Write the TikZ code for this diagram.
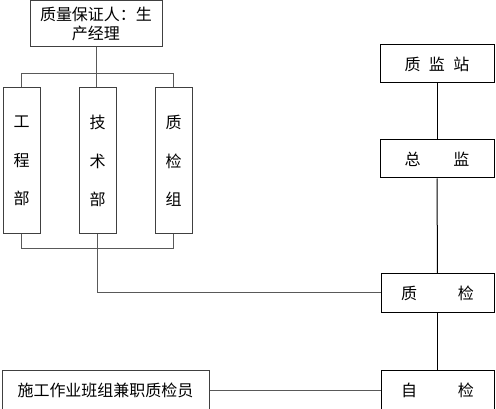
\documentclass[tikz,border=0pt]{standalone}
\usepackage{fontspec}
\setmainfont{Noto Sans CJK SC}
\newfontfamily\cjk{Noto Sans CJK SC}

\tikzset{
  box/.style={draw=black!75,line width=1pt,inner sep=0pt,font=\cjk\fontsize{16}{19}\selectfont},
  tallbox/.style={box,minimum width=37pt,minimum height=146pt,align=center,font=\cjk\fontsize{16}{38.5}\selectfont},
  rbox/.style={box,draw=black,minimum width=114pt,minimum height=38pt},
  link/.style={draw=black!65,line width=1pt}
}

\begin{document}
\begin{tikzpicture}[x=1pt,y=-1pt]
  \useasboundingbox (0,0) rectangle (496,409);
  \clip (0,0) rectangle (496,409);

  % left side

  \node[box,minimum width=132pt,minimum height=46pt,align=center] (zlbzr) at (96,24) {质量保证人：生\\产经理};

  \node[tallbox] (gcb) at (21.5,161) {工\\程\\部};
  \node[tallbox] (jsb) at (97.5,161) {技\\术\\部};
  \node[tallbox] (zjzu) at (173.5,161) {质\\检\\组};

  \draw[link] (zlbzr.south) -- (zlbzr.south |- jsb.north);
  \draw[link] (gcb.north) -- ++(0,-14) -| (zjzu.north);
  \draw[link] (gcb.south) -- ++(0,14) -| (zjzu.south);

  \node[box,minimum width=207pt,minimum height=40pt] (bzjzy) at (105.5,390) {施工作业班组兼职质检员};

  % right side

  \node[rbox] (zjzhan) at (437,64) {质\hspace{8.5pt}监\hspace{8.5pt}站};
  \node[rbox] (zongj) at (437,159) {总\hspace{33pt}监};
  \node[rbox,minimum width=113pt] (zhij) at (437.5,293) {质\hspace{41pt}检};
  \node[rbox,minimum width=113pt,minimum height=40pt] (zij) at (437.5,390) {自\hspace{41pt}检};

  \draw[draw=black,line width=1pt] (zjzhan) to (zongj);
  \draw[draw=black,line width=1pt] (zongj) to (zhij);
  \draw[draw=black,line width=1pt] (zhij) to (zij);

  \draw[link] (jsb.south) |- (zhij.west);
  \draw[link] (bzjzy.east) to (zij.west);

\end{tikzpicture}
\end{document}
